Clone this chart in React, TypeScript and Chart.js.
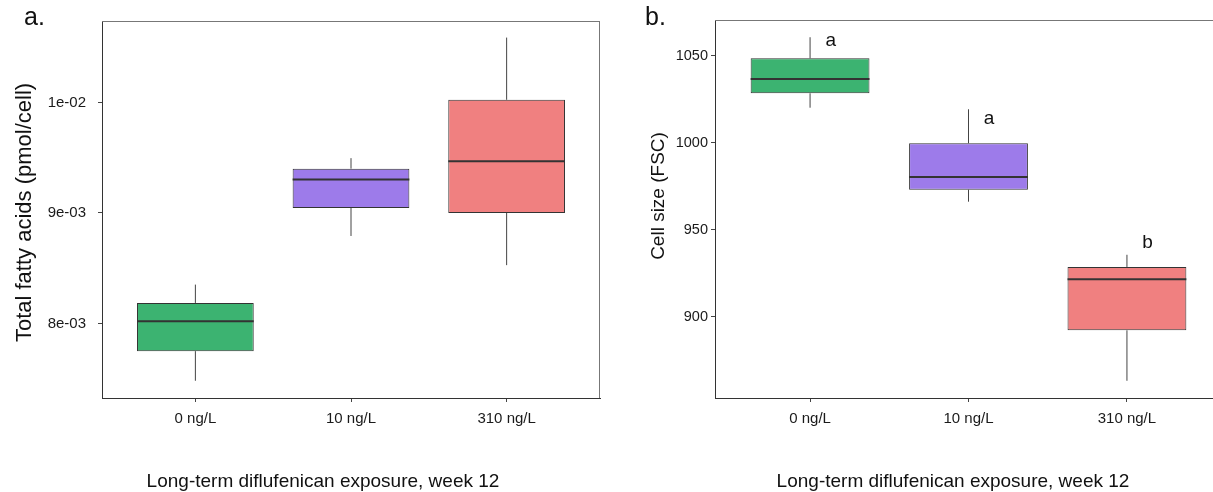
import React, { useEffect, useRef } from 'react';
import { Chart, registerables } from 'chart.js';

Chart.register(...registerables);

const FONT = '"Liberation Sans", Arial, Helvetica, sans-serif';

const categories = ['0 ng/L', '10 ng/L', '310 ng/L'];
const boxColors = ['#3CB371', '#9D7BEA', '#F08080'];

// Panel a: total fatty acids (pmol/cell)
const fattyMin = [0.007482, 0.008792, 0.008528];
const fattyQ1 = [0.00775, 0.009045, 0.009];
const fattyMedian = [0.008021, 0.009304, 0.009467];
const fattyQ3 = [0.008186, 0.009401, 0.010024];
const fattyMax = [0.008352, 0.009496, 0.010587];
const fattyTicks = [0.008, 0.009, 0.01];
const fattyTickLabels = ['8e-03', '9e-03', '1e-02'];

// Panel b: cell size (FSC)
const sizeMin = [1020.1, 966.1, 863.2];
const sizeQ1 = [1028.4, 973.0, 892.2];
const sizeMedian = [1036.6, 980.3, 921.5];
const sizeQ3 = [1048.5, 999.7, 928.6];
const sizeMax = [1060.6, 1019.2, 935.6];
const sizeTicks = [900, 950, 1000, 1050];
const sizeTickLabels = ['900', '950', '1000', '1050'];
const sizeLetters = ['a', 'a', 'b'];
const sizeLetterY = [1055.6, 1010.6, 939.3];

const xTitle = 'Long-term diflufenican exposure, week 12';

type PanelSpec = {
  min: number[]; q1: number[]; med: number[]; q3: number[]; max: number[];
  yMin: number; yMax: number; ticks: number[]; tickLabels: string[];
  yWidth: number; padRight: number; tickFont: number; tickPad: number;
  panelLabel: string; labelX: number;
  yTitle: string; yTitleX: number; yTitleY: number; yTitleFont: number;
  xTitleX: number;
  letters?: string[]; letterY?: number[];
};

function buildConfig(p: PanelSpec): any {
  const boxData = categories.map((_, i) => ({ x: i + 1, y: [p.q1[i], p.q3[i]] }));
  const whiskerData: any[] = [];
  const medianData: any[] = [];
  categories.forEach((_, i) => {
    whiskerData.push({ x: i + 1, y: p.q3[i] }, { x: i + 1, y: p.max[i] }, { x: i + 1, y: null });
    whiskerData.push({ x: i + 1, y: p.min[i] }, { x: i + 1, y: p.q1[i] }, { x: i + 1, y: null });
    medianData.push({ x: i + 1 - 0.375, y: p.med[i] }, { x: i + 1 + 0.375, y: p.med[i] }, { x: i + 1.5, y: null });
  });

  const textPlugin = {
    id: 'panelText',
    afterDraw(chart: any) {
      const ctx = chart.ctx;
      const ca = chart.chartArea;
      ctx.save();
      // frame top & right
      ctx.strokeStyle = '#777';
      ctx.lineWidth = 1;
      ctx.beginPath();
      ctx.moveTo(Math.round(ca.left), Math.round(ca.top) + 0.5);
      ctx.lineTo(Math.round(ca.right), Math.round(ca.top) + 0.5);
      ctx.moveTo(Math.round(ca.right) - 0.5, Math.round(ca.top));
      ctx.lineTo(Math.round(ca.right) - 0.5, Math.round(ca.bottom));
      ctx.stroke();

      ctx.fillStyle = '#111';
      // panel label
      ctx.font = `25px ${FONT}`;
      ctx.textAlign = 'left';
      ctx.textBaseline = 'alphabetic';
      ctx.fillText(p.panelLabel, p.labelX, 25);

      // x title
      ctx.font = `19px ${FONT}`;
      ctx.textAlign = 'center';
      ctx.fillText(xTitle, p.xTitleX, 487);

      // y title
      ctx.save();
      ctx.translate(p.yTitleX, p.yTitleY);
      ctx.rotate(-Math.PI / 2);
      ctx.font = `${p.yTitleFont}px ${FONT}`;
      ctx.textAlign = 'center';
      ctx.fillText(p.yTitle, 0, 0);
      ctx.restore();

      // significance letters
      if (p.letters && p.letterY) {
        const xs = chart.scales.x;
        const ys = chart.scales.y;
        ctx.font = `19px ${FONT}`;
        ctx.textAlign = 'center';
        p.letters.forEach((l, i) => {
          ctx.fillText(l, xs.getPixelForValue(i + 1 + 0.13), ys.getPixelForValue(p.letterY![i]));
        });
      }
      ctx.restore();
    },
  };

  return {
    type: 'bar',
    data: {
      datasets: [
        {
          type: 'line',
          data: medianData,
          borderColor: '#333',
          borderWidth: 2,
          pointRadius: 0,
          spanGaps: false,
          order: 1,
        },
        {
          type: 'bar',
          data: boxData,
          backgroundColor: boxColors,
          borderColor: '#333',
          borderWidth: 1,
          borderSkipped: false,
          barPercentage: 0.75,
          categoryPercentage: 1,
          order: 2,
        },
        {
          type: 'line',
          data: whiskerData,
          borderColor: '#444',
          borderWidth: 1,
          pointRadius: 0,
          spanGaps: false,
          order: 3,
        },
      ],
    },
    options: {
      animation: false,
      responsive: false,
      devicePixelRatio: 1,
      events: [],
      layout: { padding: { left: 0, right: p.padRight, top: 20, bottom: 0 } },
      plugins: { legend: { display: false }, tooltip: { enabled: false } },
      scales: {
        x: {
          type: 'linear',
          min: 0.4,
          max: 3.6,
          offset: false,
          afterBuildTicks: (s: any) => { s.ticks = categories.map((_, i) => ({ value: i + 1 })); },
          afterFit: (s: any) => { s.height = 94; },
          ticks: {
            callback: (_v: any, i: number) => categories[i],
            font: { family: FONT, size: 15 },
            color: '#1a1a1a',
            padding: 8,
            maxRotation: 0,
            autoSkip: false,
          },
          grid: { drawOnChartArea: false, offset: false, tickLength: 4, color: '#444' },
          border: { color: '#333', width: 1 },
        },
        y: {
          type: 'linear',
          min: p.yMin,
          max: p.yMax,
          afterBuildTicks: (s: any) => { s.ticks = p.ticks.map((v) => ({ value: v })); },
          afterFit: (s: any) => { s.width = p.yWidth; },
          ticks: {
            callback: (_v: any, i: number) => p.tickLabels[i],
            font: { family: FONT, size: p.tickFont },
            color: '#1a1a1a',
            padding: p.tickPad,
          },
          grid: { drawOnChartArea: false, tickLength: 4, color: '#444' },
          border: { color: '#333', width: 1 },
        },
      },
    },
    plugins: [textPlugin],
  };
}

const panelA: PanelSpec = {
  min: fattyMin, q1: fattyQ1, med: fattyMedian, q3: fattyQ3, max: fattyMax,
  yMin: 0.007326, yMax: 0.010737, ticks: fattyTicks, tickLabels: fattyTickLabels,
  yWidth: 102, padRight: 40, tickFont: 15, tickPad: 12,
  panelLabel: 'a.', labelX: 24,
  yTitle: 'Total fatty acids (pmol/cell)', yTitleX: 30.5, yTitleY: 212.5, yTitleFont: 22,
  xTitleX: 323,
};

const panelB: PanelSpec = {
  min: sizeMin, q1: sizeQ1, med: sizeMedian, q3: sizeQ3, max: sizeMax,
  yMin: 853.3, yMax: 1070.5, ticks: sizeTicks, tickLabels: sizeTickLabels,
  yWidth: 75, padRight: 18, tickFont: 14.5, tickPad: 3,
  panelLabel: 'b.', labelX: 5,
  yTitle: 'Cell size (FSC)', yTitleX: 23.5, yTitleY: 196, yTitleFont: 19,
  xTitleX: 313,
  letters: sizeLetters, letterY: sizeLetterY,
};

function Panel({ spec, left, width }: { spec: PanelSpec; left: number; width: number }) {
  const ref = useRef<HTMLCanvasElement | null>(null);
  useEffect(() => {
    if (!ref.current) return;
    const chart = new Chart(ref.current, buildConfig(spec));
    return () => chart.destroy();
  }, [spec]);
  return (
    <canvas
      ref={ref}
      width={width}
      height={492}
      style={{ position: 'absolute', left, top: 0, width, height: 492 }}
    />
  );
}

export default function App() {
  return (
    <div
      style={{
        position: 'fixed', left: 0, top: 0, width: 1213, height: 492,
        overflow: 'hidden', background: '#fff',
      }}
    >
      <Panel spec={panelA} left={0} width={640} />
      <Panel spec={panelB} left={640} width={600} />
    </div>
  );
}
